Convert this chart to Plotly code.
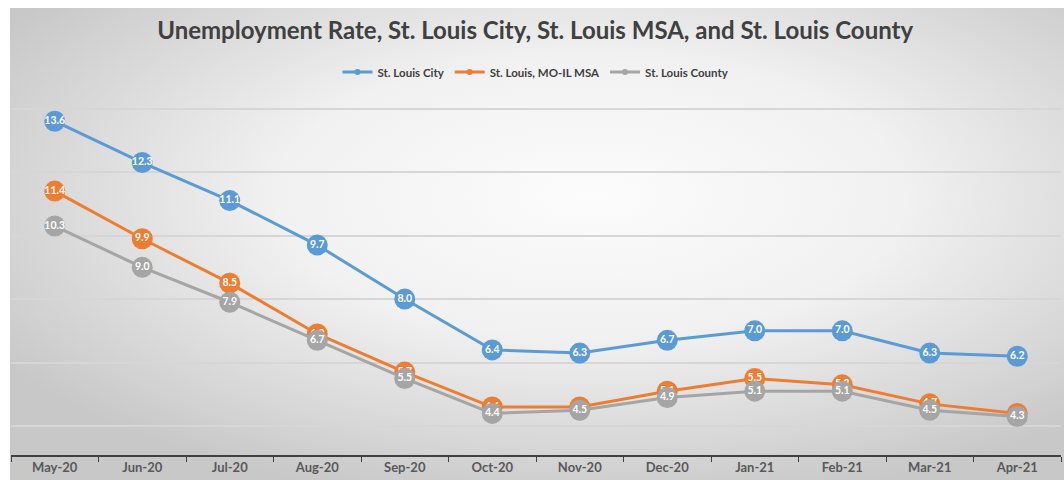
import base64
import plotly.graph_objects as go

months = ["May-20", "Jun-20", "Jul-20", "Aug-20", "Sep-20", "Oct-20",
          "Nov-20", "Dec-20", "Jan-21", "Feb-21", "Mar-21", "Apr-21"]
city = [13.6, 12.3, 11.1, 9.7, 8.0, 6.4, 6.3, 6.7, 7.0, 7.0, 6.3, 6.2]
msa = [11.4, 9.9, 8.5, 6.9, 5.7, 4.6, 4.6, 5.1, 5.5, 5.3, 4.7, 4.4]
county = [10.3, 9.0, 7.9, 6.7, 5.5, 4.4, 4.5, 4.9, 5.1, 5.1, 4.5, 4.3]

names = ["St. Louis City", "St. Louis, MO-IL MSA", "St. Louis County"]
colors = ["#5B9BD5", "#ED7D31", "#A5A5A5"]
series = [city, msa, county]

FONT = "Lato, 'Open Sans', sans-serif"

fig = go.Figure()
for name, col, vals in zip(names, colors, series):
    fig.add_trace(go.Scatter(
        x=months, y=vals, mode="lines+markers+text", name=name,
        line=dict(color=col, width=3),
        marker=dict(color=col, size=21),
        text=[f"{v:.1f}" for v in vals], textposition="middle center",
        textfont=dict(color="white", size=10.5, family=FONT, weight="bold"),
        showlegend=False, hoverinfo="skip",
    ))
for name, col in zip(names, colors):
    fig.add_trace(go.Scatter(
        x=[None], y=[None], mode="lines+markers", name=name,
        line=dict(color=col, width=3), marker=dict(color=col, size=6),
    ))

svg = """<svg xmlns='http://www.w3.org/2000/svg' width='1054' height='472' preserveAspectRatio='none' viewBox='0 0 1054 472'>
<defs><radialGradient id='g' cx='0.55' cy='0.40' r='0.66'>
<stop offset='0' stop-color='#fcfcfc'/><stop offset='0.45' stop-color='#f1f1f1'/><stop offset='1' stop-color='#c8c8c8'/>
</radialGradient></defs><rect width='1054' height='472' fill='url(#g)'/></svg>"""
src = "data:image/svg+xml;base64," + base64.b64encode(svg.encode()).decode()

L, R, T, B = 11, 3, 45, 25
pw, ph = 1064 - L - R, 480 - T - B
fig.add_layout_image(dict(
    source=src, xref="paper", yref="paper",
    x=(10 - L) / pw, y=(480 - B - 8) / ph, sizex=1054 / pw, sizey=472 / ph,
    xanchor="left", yanchor="top", sizing="stretch", layer="below",
))

fig.update_layout(
    width=1064, height=480,
    margin=dict(l=L, r=R, t=T, b=B),
    paper_bgcolor="white", plot_bgcolor="rgba(0,0,0,0)",
    title=dict(text="Unemployment Rate, St. Louis City, St. Louis MSA, and St. Louis County",
               x=0.503, xanchor="center", y=1 - 31 / 480, yanchor="middle",
               font=dict(family=FONT, size=24, color="#404040", weight="bold")),
    legend=dict(orientation="h", x=0.5, xanchor="center", y=(455 - 72) / 410, yanchor="middle",
                font=dict(family=FONT, size=11.5, color="#404040", weight="bold"),
                bgcolor="rgba(0,0,0,0)", itemwidth=30, tracegroupgap=0),
    xaxis=dict(type="category", range=[-0.5, 11.5], showgrid=False,
               showline=True, linecolor="#404040", linewidth=1.5,
               ticks="outside", tickson="boundaries", ticklen=5, tickcolor="#404040",
               tickfont=dict(family=FONT, size=13, color="#595959", weight="bold")),
    yaxis=dict(range=[3.09, 16], dtick=2, tick0=0, showticklabels=False,
               showgrid=True, gridcolor="#d6d6d6", gridwidth=1.5, zeroline=False),
)

fig.write_html("out.html", config={"displayModeBar": False},
               post_script="document.body.style.margin='0';document.body.style.overflow='hidden';")
